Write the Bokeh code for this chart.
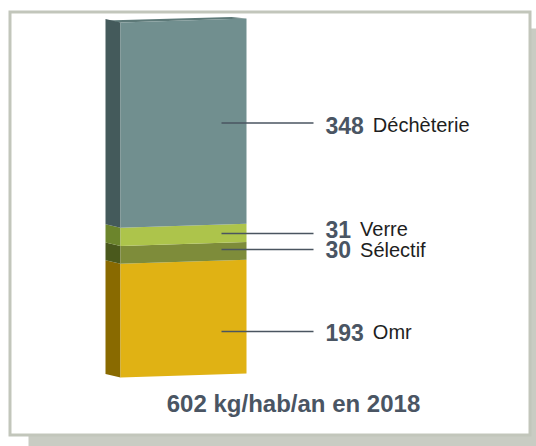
from bokeh.plotting import figure
from bokeh.models import Range1d
from bokeh.embed import file_html
from bokeh.resources import INLINE
from bokeh.core.properties import value
import numpy as np

# ---- data (bottom to top of the stack) ----
categories = ["Omr", "Sélectif", "Verre", "Déchèterie"]
amounts = [193, 30, 31, 348]
year = "2018"
unit = "kg/hab/an"

# ---- styles ----
front_colors = ["#e0b214", "#7e8c3a", "#adc44b", "#718f8f"]
side_colors = ["#896a00", "#4a591c", "#6c852c", "#445a5b"]
top_color = "#5d7978"
num_color = "#4a5563"
word_color = "#1e1e1e"
line_color = "#4a5560"
border_color = "#c2c6bb"
shadow_color = "#c9ccc3"
FONT = "Liberation Sans"

W, H = 536, 446
TOP_PX, BOT_PX = 22, 377
total = sum(amounts)
s = (BOT_PX - TOP_PX) / total  # px per kg

p = figure(width=W, height=H, x_range=Range1d(0, W),
           y_range=Range1d(-(H - BOT_PX) / s, total + TOP_PX / s),
           output_backend="svg", toolbar_location=None, min_border=0,
           x_axis_type=None, y_axis_type=None)
p.extra_y_ranges = {"px": Range1d(H, 0)}
p.outline_line_color = None
p.background_fill_color = "white"
p.border_fill_color = "white"

# ---- frame with shadow ----
p.quad(left=[28], right=[W], top=[28], bottom=[H], y_range_name="px",
       fill_color=shadow_color, line_color=None)
p.quad(left=[8], right=[531], top=[10], bottom=[436], y_range_name="px",
       fill_color=border_color, line_color=None)
p.quad(left=[11], right=[528], top=[13], bottom=[433], y_range_name="px",
       fill_color="white", line_color=None)

# ---- 3D stacked bar ----
XS, XL, XR = 105, 120, 246
DYF = 4 / s
DYS = 3.5 / s
DYT = 1.5 / s
cum = np.concatenate([[0], np.cumsum(amounts)])
lo, hi = cum[:-1], cum[1:]

front_xs = [[XL, XR, XR, XL] for _ in amounts]
front_ys = [[a, a + DYF, b + DYF, b] for a, b in zip(lo, hi)]
side_xs = [[XS, XL, XL, XS] for _ in amounts]
side_ys = [[a + DYS, a, b, b + DYS] for a, b in zip(lo, hi)]

T = total
p.patch([XS, XL, XR, XR - (XL - XS)], [T + DYS - DYT, T, T + DYF, T + DYF + DYT],
        fill_color=top_color, line_color=None)
p.patches(side_xs, side_ys, fill_color=side_colors, line_color=None)
p.patches(front_xs, front_ys, fill_color=front_colors, line_color=None)

# ---- leader lines and labels ----
mids = (lo + hi) / 2
line_nudge_px = [11, -5.3, -3.4, -2]
text_nudge_px = [0.5, 0, -4, 2]
line_y = [m - n / s for m, n in zip(mids, line_nudge_px)]
text_y = [ly - t / s for ly, t in zip(line_y, text_nudge_px)]

p.segment(x0=[221] * len(amounts), x1=[313] * len(amounts), y0=line_y, y1=line_y,
          line_color=line_color, line_width=1.5)

NUM_X = 325
NUM_SIZE = 23
num_txt = [str(a) for a in amounts]
p.text(x=[NUM_X] * len(amounts), y=text_y, text=num_txt,
       text_font=value(FONT), text_font_style="bold", text_font_size=f"{NUM_SIZE}px",
       text_color=num_color, text_align="left", text_baseline="middle")
word_x = [NUM_X + len(t) * 0.556 * NUM_SIZE + 9 for t in num_txt]
p.text(x=word_x, y=text_y, text=categories,
       text_font=value(FONT), text_font_size="20px",
       text_color=word_color, text_align="left", text_baseline="middle")

# ---- total caption ----
p.text(x=[293], y=[403], text=[f"{total} {unit} en {year}"], y_range_name="px",
       text_font=value(FONT), text_font_style="bold", text_font_size="24px",
       text_color=num_color, text_align="center", text_baseline="middle")

open("out.html", "w").write(file_html(p, INLINE))
